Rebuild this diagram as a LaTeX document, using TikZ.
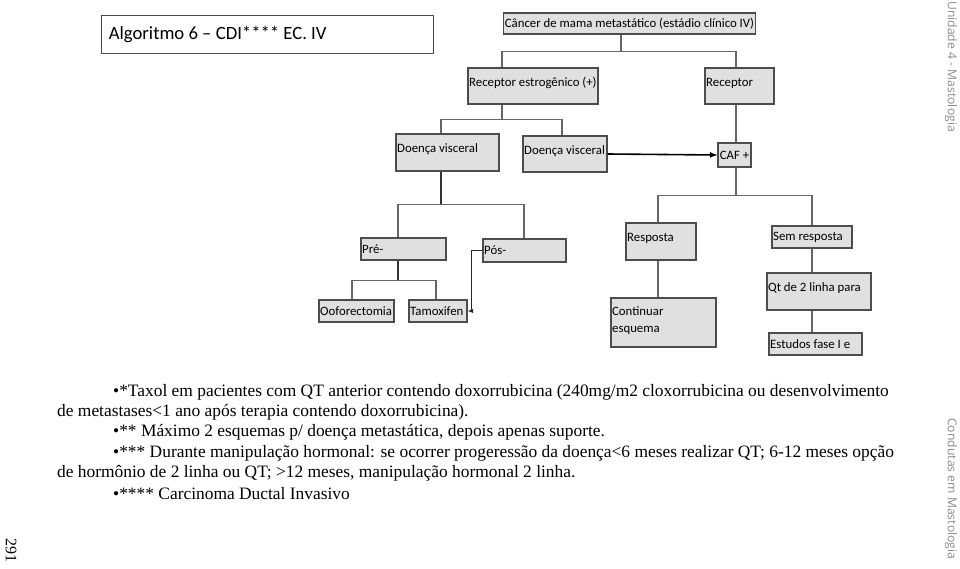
\documentclass[tikz,border=0pt]{standalone}
\usepackage{fontspec}
\setmainfont{Liberation Serif}
\newfontfamily\boxfont{Carlito}
\newfontfamily\sidefont{Open Sans}
\usetikzlibrary{positioning,calc}
\definecolor{boxfill}{HTML}{E0E0E0}
\definecolor{boxline}{HTML}{4D4D4D}
\definecolor{connline}{HTML}{666666}
\definecolor{sidegray}{HTML}{8C8C8C}

\begin{document}
\begin{tikzpicture}[x=1pt, y=-1pt]
    % --- Styles ---
    \tikzstyle{box}=[draw=boxline, fill=boxfill, line width=1.1pt, inner sep=0pt]
    \tikzstyle{txt}=[font=\boxfont\fontsize{12.8}{15}\selectfont, text=black]
    \tikzstyle{tl}=[txt, anchor=north west, inner xsep=1.5pt, inner ysep=8.5pt, align=left, execute at begin node=\strut]
    \tikzstyle{ml}=[txt, anchor=west, inner xsep=1.5pt]
    \tikzstyle{conn}=[draw=connline, line width=1.1pt]
    \tikzstyle{stem}=[draw=black!80, line width=1.5pt]
    \tikzstyle{flow}=[draw=black, line width=1.6pt, -latex]
    \tikzstyle{back}=[draw=black!85, line width=0.9pt, -latex]
    \tikzstyle{note}=[anchor=base west, inner sep=0pt, font=\fontsize{17.4}{20}\selectfont]
    \tikzstyle{side}=[rotate=-90, anchor=west, inner sep=0pt, text=sidegray, font=\sidefont\fontsize{12.2}{14}\selectfont]

    \useasboundingbox (0,0) rectangle (960,569);

    % --- 1. Title ---
    \node[draw=black!70, line width=0.8pt, minimum width=332, minimum height=38,
          label={[anchor=west, inner xsep=8pt, font=\boxfont\fontsize{18.7}{22}\selectfont]west:Algoritmo 6 – CDI**** EC. IV}] (title) at (267,34) {};

    % --- 2. Boxes ---
    \node[box, minimum width=251, minimum height=21, txt, inner xsep=1pt] (cancer) at (629.5,23.5) {Câncer de mama metastático (estádio clínico IV)};

    \node[box, minimum width=130, minimum height=36, label={[tl]north west:Receptor estrogênico (+)}] (recp) at (533,86) {};
    \node[box, minimum width=69, minimum height=36, label={[tl]north west:Receptor}] (recn) at (739.5,86) {};

    \node[box, minimum width=103, minimum height=37, label={[tl]north west:Doença visceral}] (dv1) at (447.5,152.5) {};
    \node[box, minimum width=84, minimum height=36, label={[tl]north west:Doença visceral}] (dv2) at (565,154) {};
    \node[box, minimum width=33, minimum height=24, txt] (caf) at (734.5,155) {CAF +};

    \node[box, minimum width=85, minimum height=22, label={[ml]west:Pré-}] (pre) at (403.5,249) {};
    \node[box, minimum width=83, minimum height=23, label={[ml]west:Pós-}] (pos) at (524.5,250.5) {};
    \node[box, minimum width=75, minimum height=22, label={[ml]west:Ooforectomia}] (oof) at (356.5,311) {};
    \node[box, minimum width=58, minimum height=22, label={[ml]west:Tamoxifen}] (tam) at (438,311) {};

    \node[box, minimum width=70, minimum height=37, label={[tl]north west:Resposta}] (resp) at (661,241.5) {};
    \node[box, minimum width=105, minimum height=49, label={[tl]north west:Continuar\\[2pt]esquema}] (cont) at (663.5,322.5) {};
    \node[box, minimum width=80, minimum height=22, label={[ml]west:Sem resposta}] (sem) at (812,237) {};
    \node[box, minimum width=104, minimum height=37, label={[tl]north west:Qt de 2 linha para}] (qt) at (819,291.5) {};
    \node[box, minimum width=93, minimum height=22, label={[ml]west:Estudos fase I e}] (est) at (815.5,344) {};

    % --- 3. Connectors ---
    \draw[conn] ([xshift=-8.5]cancer.south) -- ++(0,17) coordinate (topfork) -| ([xshift=-31]recp.north);
    \draw[conn] (topfork) -| ([xshift=-3.5]recn.north);

    \draw[conn] ([xshift=-31]recp.south) -- ++(0,15) coordinate (rpfork) -| ([xshift=-6.5]dv1.north);
    \draw[conn] (rpfork) -| ([xshift=-3]dv2.north);

    \draw[flow] (dv2.east) -- (caf.west);
    \draw[conn] ([xshift=-3.5]recn.south) -- ([xshift=1.5]caf.north);

    \draw[conn] ([xshift=1.5]caf.south) -- ++(0,28) coordinate (caffork) -| ([xshift=-3]resp.north);
    \draw[conn] (caffork) -| (sem.north);
    \draw[conn] ([xshift=-3]resp.south) -- ([xshift=-5.5]cont.north);
    \draw[conn] (sem.south) -- ([xshift=-7]qt.north);
    \draw[conn] ([xshift=-7]qt.south) -- ([xshift=-3.5]est.north);

    \draw[stem] ([xshift=-6.5]dv1.south) -- ++(0,33) coordinate (dvfork);
    \draw[conn] (dvfork) -| ([xshift=-5.5]pre.north);
    \draw[conn] (dvfork) -| ([xshift=-0.5]pos.north);

    \draw[stem] ([xshift=-5.5]pre.south) -- ++(0,20) coordinate (prefork);
    \draw[conn] (prefork) -| ([xshift=-4.5]oof.north);
    \draw[conn] (prefork) -| ([xshift=-2]tam.north);

    \draw[back] (pos.west) -- ++(-11,0) |- (tam.east);

    % --- 4. Notes ---
    \node[note] (n1) at (113,396) {•*Taxol em pacientes com QT anterior contendo doxorrubicina (240mg/m2 cloxorrubicina ou desenvolvimento};
    \node[note] (n2) at (57,416) {de metastases<1 ano após terapia contendo doxorrubicina).};
    \node[note] (n3) at (113,436) {•** Máximo 2 esquemas p/ doença metastática, depois apenas suporte.};
    \node[note] (n4) at (113,457) {•*** Durante manipulação hormonal: se ocorrer progeressão da doença<6 meses realizar QT; 6-12 meses opção};
    \node[note] (n5) at (57,477) {de hormônio de 2 linha ou QT; >12 meses, manipulação hormonal 2 linha.};
    \node[note] (n6) at (113,499) {•**** Carcinoma Ductal Invasivo};

    % --- 5. Page marks ---
    \node[side] (unit) at (951,1) {Unidade 4 - Mastologia};
    \node[side] (book) at (951,418) {Condutas em Mastologia};
    \node[side, text=black, font=\fontsize{16}{18}\selectfont] (page) at (11,538) {291};
\end{tikzpicture}
\end{document}
